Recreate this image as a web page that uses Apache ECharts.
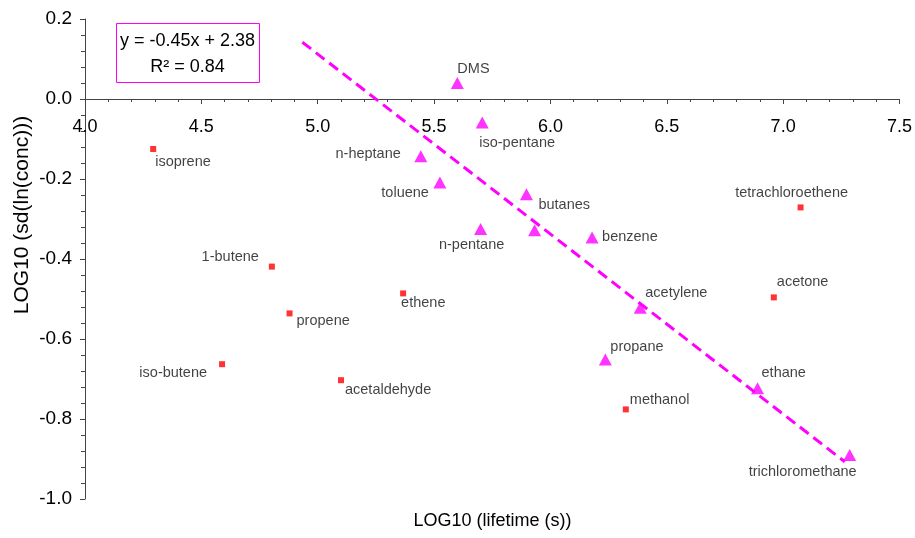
<!DOCTYPE html>
<html>
<head>
<meta charset="utf-8">
<script src="https://cdn.jsdelivr.net/npm/echarts@6/dist/echarts.min.js"></script>
<style>
html,body{margin:0;padding:0;background:#fff;}
#chart{width:915px;height:538px;}
</style>
</head>
<body>
<div id="chart"></div>
<script>
// ---- data ----
var triNames = ['DMS','iso-pentane','n-heptane','toluene','butanes','','n-pentane','benzene','acetylene','propane','ethane','trichloromethane'];
var triX = [5.60, 5.707, 5.443, 5.525, 5.897, 5.932, 5.70, 6.179, 6.386, 6.236, 6.890, 7.286];
var triY = [0.04, -0.059, -0.143, -0.209, -0.238, -0.328, -0.325, -0.346, -0.522, -0.651, -0.723, -0.89];

var sqNames = ['isoprene','1-butene','ethene','propene','iso-butene','acetaldehyde','tetrachloroethene','acetone','methanol'];
var sqX = [4.293, 4.803, 5.367, 4.879, 4.589, 5.100, 7.075, 6.960, 6.324];
var sqY = [-0.125, -0.419, -0.486, -0.536, -0.663, -0.703, -0.271, -0.496, -0.776];

var trendX = [4.934, 7.265];
var trendY = [0.142, -0.907];

var xTicks = ['4.0','4.5','5.0','5.5','6.0','6.5','7.0','7.5'];
var yTicks = ['-1.0','-0.8','-0.6','-0.4','-0.2','0.0','0.2'];

// ---- label layout (style, not data) ----
var triLabelLayout = [
  ['left',0,-14],['left',-3,20],['right',-20,-2],['right',-11,10],['left',12,11],null,
  ['center',-9,16],['left',10,0],['left',5,-15],['left',5,-12],['left',4,-15],['right',7,17]
];
var sqLabelLayout = [
  ['left',2,13],['right',-13,-10],['left',-2,10],['left',7,8],['right',-15,9],['left',4,10],
  ['center',-9,-14],['left',3,-15],['left',4,-9]
];

var FONT = '"Liberation Sans", Arial, sans-serif';
var GRID_TOP = 19, GRID_BOTTOM_PX = 499, Y_MIN = -1, Y_MAX = 0.2;
// vertical shift that puts the x axis at y = 0 of the value axis
var xAxisOffset = -(GRID_BOTTOM_PX - GRID_TOP) * (0 - Y_MIN) / (Y_MAX - Y_MIN);

function buildPoints(names, xs, ys, layout) {
  return names.map(function (n, i) {
    var l = layout[i];
    var item = { name: n, value: [xs[i], ys[i]] };
    if (l && n) {
      item.label = {
        show: true, position: 'inside', align: l[0], verticalAlign: 'middle',
        offset: [l[1], l[2]], formatter: n, color: '#111', fontSize: 14.5, fontFamily: FONT
      };
    } else {
      item.label = { show: false };
    }
    return item;
  });
}

var chart = echarts.init(document.getElementById('chart'), null, { renderer: 'canvas' });

var option = {
  backgroundColor: '#ffffff',
  animation: false,
  grid: { left: 85, right: 14, top: GRID_TOP, bottom: 538 - GRID_BOTTOM_PX, containLabel: false },
  xAxis: {
    type: 'value', min: 4, max: 7.5, interval: 0.5,
    position: 'bottom', offset: xAxisOffset,
    axisLine: { onZero: false, lineStyle: { color: '#444', width: 1 } },
    axisTick: { show: true, length: 5, lineStyle: { color: '#444' } },
    minorTick: { show: true, splitNumber: 5, length: 3, lineStyle: { color: '#444' } },
    splitLine: { show: false },
    axisLabel: {
      margin: 19, fontSize: 18, color: '#000', fontFamily: FONT,
      formatter: function (v) { return xTicks[Math.round((v - 4) / 0.5)]; }
    }
  },
  yAxis: {
    type: 'value', min: Y_MIN, max: Y_MAX, interval: 0.2,
    axisLine: { show: true, onZero: false, lineStyle: { color: '#444', width: 1 } },
    axisTick: { show: true, length: 5, lineStyle: { color: '#444' } },
    minorTick: { show: true, splitNumber: 5, length: 4, lineStyle: { color: '#444' } },
    splitLine: { show: false },
    axisLabel: {
      margin: 13, fontSize: 19, color: '#000', fontFamily: FONT,
      formatter: function (v) { return yTicks[Math.round((v + 1) / 0.2)]; }
    }
  },
  series: [
    {
      name: 'trend', type: 'line', symbol: 'none', silent: true, z: 1,
      data: trendX.map(function (x, i) { return [x, trendY[i]]; }),
      lineStyle: { color: '#ff00ff', width: 3, type: [11, 6] }
    },
    {
      name: 'triangles', type: 'scatter', symbol: 'triangle', symbolSize: [13, 12], z: 3,
      itemStyle: { color: '#ff00ff' },
      data: buildPoints(triNames, triX, triY, triLabelLayout)
    },
    {
      name: 'squares', type: 'scatter', symbol: 'rect', symbolSize: 6, z: 3,
      itemStyle: { color: '#ff0000' },
      data: buildPoints(sqNames, sqX, sqY, sqLabelLayout)
    }
  ],
  graphic: [
    {
      type: 'rect', left: 116, top: 23, z: 10,
      shape: { width: 143, height: 59 },
      style: { fill: '#ffffff', stroke: '#ff00ff', lineWidth: 1 }
    },
    {
      type: 'text', x: 187.5, y: 41, z: 11,
      style: { text: 'y = -0.45x + 2.38', fontSize: 18, fontFamily: FONT, fill: '#000', align: 'center', verticalAlign: 'middle' }
    },
    {
      type: 'text', x: 187.5, y: 67, z: 11,
      style: { text: 'R² = 0.84', fontSize: 18, fontFamily: FONT, fill: '#000', align: 'center', verticalAlign: 'middle' }
    },
    {
      type: 'text', x: 492.5, y: 521, z: 11,
      style: { text: 'LOG10 (lifetime (s))', fontSize: 18, fontFamily: FONT, fill: '#000', align: 'center', verticalAlign: 'middle' }
    },
    {
      type: 'text', x: 22, y: 215, rotation: Math.PI / 2, z: 11,
      style: { text: 'LOG10 (sd(ln(conc)))', fontSize: 21, fontFamily: FONT, fill: '#000', align: 'center', verticalAlign: 'middle' }
    }
  ]
};

chart.setOption(option);
</script>
</body>
</html>
